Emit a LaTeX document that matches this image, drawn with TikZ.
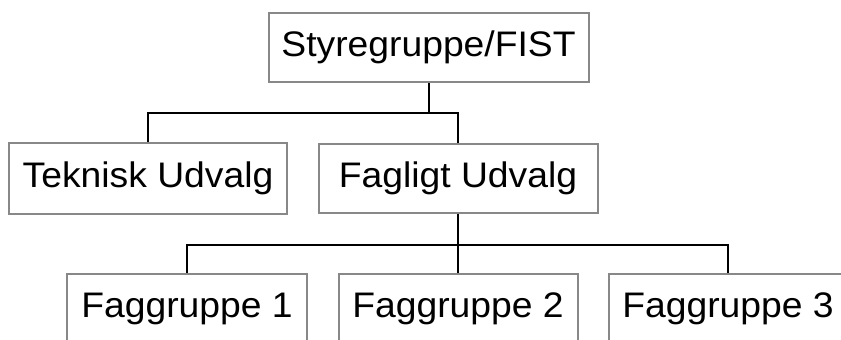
\documentclass[tikz,border=0pt]{standalone}
\usepackage{fontspec}
\setmainfont{Liberation Sans}[FakeStretch=1.05]
\definecolor{boxgray}{RGB}{136,136,136}
\begin{document}
\begin{tikzpicture}[x=1pt,y=-1pt,
  orgbox/.style={draw=boxgray, line width=2pt, inner sep=0pt, fill=white,
    font=\fontsize{35.5}{42}\selectfont, anchor=center},
  conn/.style={draw=black, line width=2pt}]
\useasboundingbox (0,0) rectangle (841,340);
\node[orgbox, minimum width=320pt, minimum height=69pt] (top) at (428.5,47.5) {Styregruppe/FIST};
\node[orgbox, minimum width=278pt, minimum height=71pt] (tek) at (148,178.5) {Teknisk Udvalg};
\node[orgbox, minimum width=279pt, minimum height=69pt] (fag) at (458,178.5) {Fagligt Udvalg};
\node[orgbox, minimum width=240pt, minimum height=70pt] (fg1) at (187,309) {Faggruppe 1};
\node[orgbox, minimum width=239pt, minimum height=70pt] (fg2) at (458,309) {Faggruppe 2};
\node[orgbox, minimum width=239pt, minimum height=70pt] (fg3) at (728,309) {Faggruppe 3};
\coordinate (j1) at (0,113);
\coordinate (j2) at (0,245);
\draw[conn] (top.south) -- (top.south |- j1) -| (tek.north);
\draw[conn] (top.south |- j1) -| (fag.north);
\draw[conn] (fag.south) -- (fag.south |- j2) -| (fg1.north);
\draw[conn] (fag.south |- j2) -- (fg2.north);
\draw[conn] (fag.south |- j2) -| (fg3.north);
\end{tikzpicture}
\end{document}
